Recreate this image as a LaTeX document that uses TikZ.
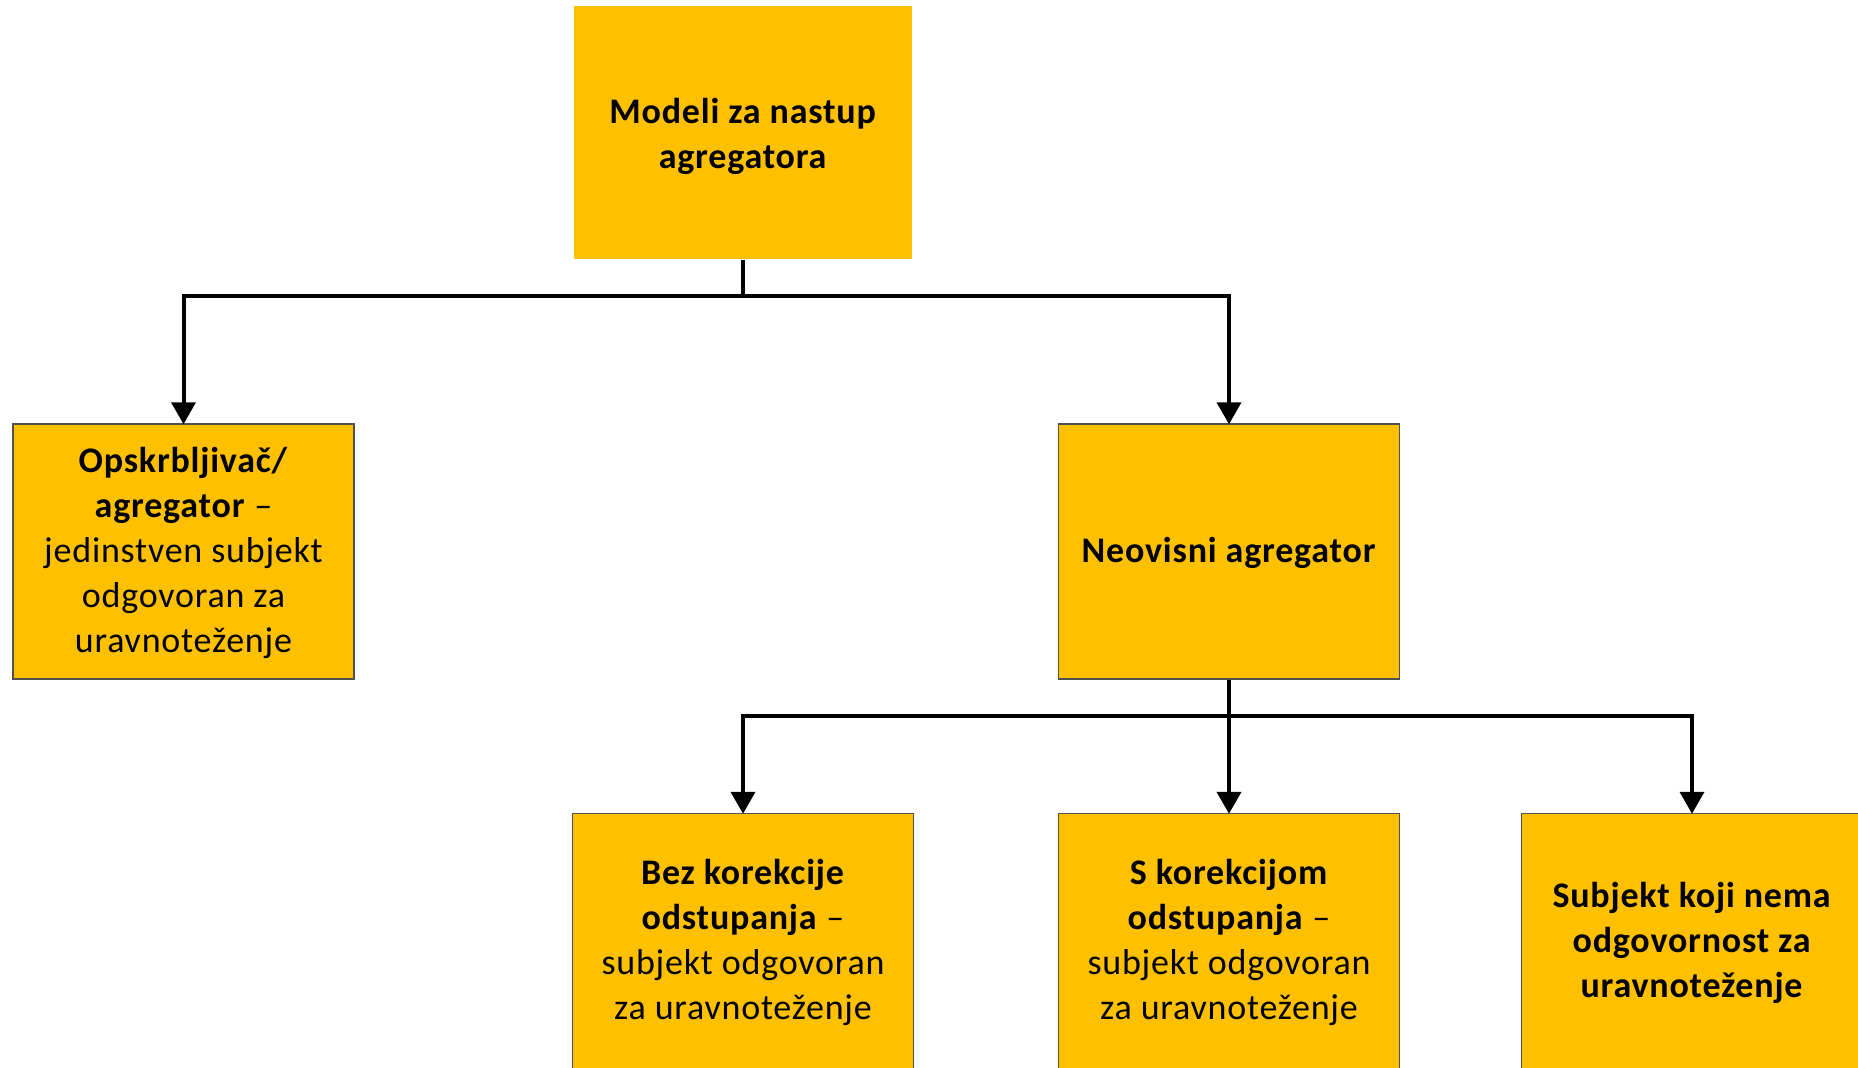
\documentclass[tikz,border=0pt]{standalone}
\usepackage{fontspec}
\setmainfont{Carlito}[LetterSpace=2.2]
\usetikzlibrary{arrows.meta}
\definecolor{gold}{HTML}{FFC000}
\definecolor{edge}{HTML}{505050}
\tikzset{
  box/.style={rectangle, fill=gold, draw=edge, line width=1.5pt, inner sep=0pt,
    minimum width=341pt, minimum height=255pt},
  txt/.style={inner sep=0pt, align=center, font=\fontsize{36}{45}\selectfont},
  conn/.style={line width=4pt, draw=black},
  arr/.style={conn, -{Triangle[width=24pt,length=22pt]}, shorten >=-1pt},
}
\begin{document}
\begin{tikzpicture}[x=1pt,y=-1pt]
\useasboundingbox (0,0) rectangle (1858,1068);
\clip (0,0) rectangle (1858,1068);
\node[box, draw=none, minimum width=338pt, minimum height=253pt] (top) at (743,132.5) {};
\node[box] (left) at (183.5,551.5) {};
\node[box] (neo) at (1229,551.5) {};
\node[box] (b1) at (743,941) {};
\node[box] (b2) at (1229,941) {};
\node[box] (b3) at (1692,941) {};
\node[txt] (ttop) at ([yshift=-3.5pt]top.center) {\textbf{Modeli za nastup}\\\textbf{agregatora}};
\node[txt] (tleft) at ([yshift=-1.5pt]left.center)
  {\textbf{Opskrbljivač/}\\\textbf{agregator} –\\jedinstven subjekt\\odgovoran za\\uravnoteženje};
\node[txt] (tneo) at ([yshift=-1.5pt]neo.center) {\textbf{Neovisni agregator}};
\node[txt] (tb1) at ([yshift=-1.5pt]b1.center) {\textbf{Bez korekcije}\\\textbf{odstupanja} –\\subjekt odgovoran\\za uravnoteženje};
\node[txt] (tb2) at ([yshift=-1.5pt]b2.center) {\textbf{S korekcijom}\\\textbf{odstupanja} –\\subjekt odgovoran\\za uravnoteženje};
\node[txt] (tb3) at ([yshift=-1.5pt]b3.center) {\textbf{Subjekt koji nema}\\\textbf{odgovornost za}\\\textbf{uravnoteženje}};
\coordinate (j1) at (743,296);
\coordinate (j2) at (1229,716);
\draw[conn] (top.south) -- (j1);
\draw[conn, line cap=rect] (left.north |- j1) -- (neo.north |- j1);
\draw[arr] (left.north |- j1) -- (left.north);
\draw[arr] (neo.north |- j1) -- (neo.north);
\draw[conn, line cap=rect] (b1.north |- j2) -- (b3.north |- j2);
\draw[arr] (neo.south) -- (b2.north);
\draw[arr] (b1.north |- j2) -- (b1.north);
\draw[arr] (b3.north |- j2) -- (b3.north);
\end{tikzpicture}
\end{document}
